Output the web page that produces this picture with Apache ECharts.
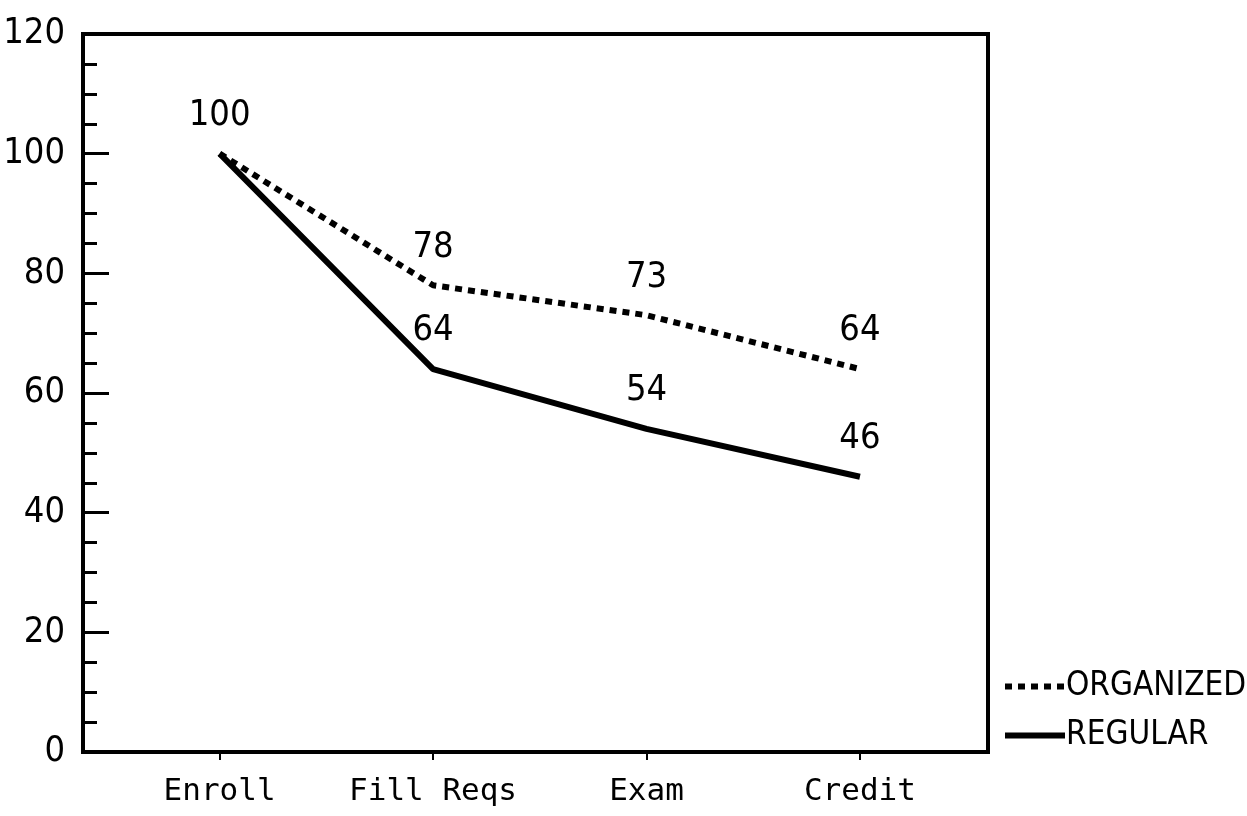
<!DOCTYPE html>
<html>
<head>
<meta charset="utf-8">
<script src="https://cdn.jsdelivr.net/npm/echarts@6/dist/echarts.min.js"></script>
<style>
  html, body { margin: 0; padding: 0; background: #fff; }
  #main { width: 1247px; height: 816px; }
</style>
</head>
<body>
<div id="main"></div>
<script>
  // categories and series values
  var categories = ['Enroll', 'Fill Reqs', 'Exam', 'Credit'];
  var organized = [100, 78, 73, 64];
  var regular = [100, 64, 54, 46];
  var yTicks = [0, 20, 40, 60, 80, 100, 120];

  var numFont = '"Liberation Sans Narrow", "DejaVu Sans Condensed", "DejaVu Sans", sans-serif';
  var monoFont = '"DejaVu Sans Mono", "Liberation Mono", monospace';

  var dashed = [7, 6];

  // x is a value axis so the uneven side gaps can be matched
  var positions = categories.map(function (c, i) { return i + 1; });

  function toData(values, skipFirstLabel) {
    return values.map(function (v, i) {
      var item = { value: [positions[i], v] };
      if (skipFirstLabel && i === 0) {
        item.label = { show: false };
      }
      return item;
    });
  }

  var pointLabel = {
    show: true,
    position: 'top',
    distance: 20,
    fontFamily: numFont,
    fontSize: 36,
    color: '#000',
    formatter: function (p) { return p.value[1]; }
  };

  var myChart = echarts.init(document.getElementById('main'));

  var option = {
    backgroundColor: '#fff',
    animation: false,
    grid: {
      left: 83,
      top: 34,
      right: 259,
      bottom: 64,
      show: true,
      borderColor: '#000',
      borderWidth: 4,
      backgroundColor: 'transparent'
    },
    legend: {
      orient: 'vertical',
      left: 1002,
      top: 670,
      padding: 0,
      itemWidth: 60,
      itemHeight: 14,
      itemGap: 16,
      itemStyle: { opacity: 0 },
      data: [
        { name: 'ORGANIZED', lineStyle: { width: 6, type: dashed, color: '#000' } },
        { name: 'REGULAR', lineStyle: { width: 6, type: 'solid', color: '#000' } }
      ],
      textStyle: {
        fontFamily: numFont,
        fontSize: 33,
        color: '#000',
        padding: [0, 0, 0, -4]
      }
    },
    xAxis: {
      type: 'value',
      min: 0.36,
      max: 4.6,
      splitLine: { show: false },
      axisLine: { show: true, lineStyle: { color: '#000', width: 4 } },
      axisTick: {
        show: true,
        length: 8,
        customValues: positions,
        lineStyle: { color: '#000', width: 2 }
      },
      axisLabel: {
        customValues: positions,
        margin: 24,
        fontFamily: monoFont,
        fontSize: 31,
        color: '#000',
        formatter: function (v) {
          return categories[Math.round(v) - 1] || '';
        }
      }
    },
    yAxis: {
      type: 'value',
      min: yTicks[0],
      max: yTicks[yTicks.length - 1],
      interval: 20,
      splitLine: { show: false },
      axisLine: { show: true, lineStyle: { color: '#000', width: 4 } },
      axisTick: {
        show: true,
        inside: true,
        length: 26,
        lineStyle: { color: '#000', width: 3 }
      },
      minorTick: {
        show: true,
        splitNumber: 4,
        length: 14,
        lineStyle: { color: '#000', width: 3 }
      },
      axisLabel: {
        margin: 18,
        fontFamily: numFont,
        fontSize: 36,
        color: '#000'
      }
    },
    series: [
      {
        name: 'ORGANIZED',
        type: 'line',
        symbol: 'circle',
        symbolSize: 0,
        showSymbol: true,
        data: toData(organized, false),
        lineStyle: { color: '#000', width: 6, type: dashed },
        itemStyle: { color: '#000' },
        label: pointLabel
      },
      {
        name: 'REGULAR',
        type: 'line',
        symbol: 'circle',
        symbolSize: 0,
        showSymbol: true,
        data: toData(regular, true),
        lineStyle: { color: '#000', width: 6 },
        itemStyle: { color: '#000' },
        label: pointLabel
      }
    ]
  };

  myChart.setOption(option);
</script>
</body>
</html>
